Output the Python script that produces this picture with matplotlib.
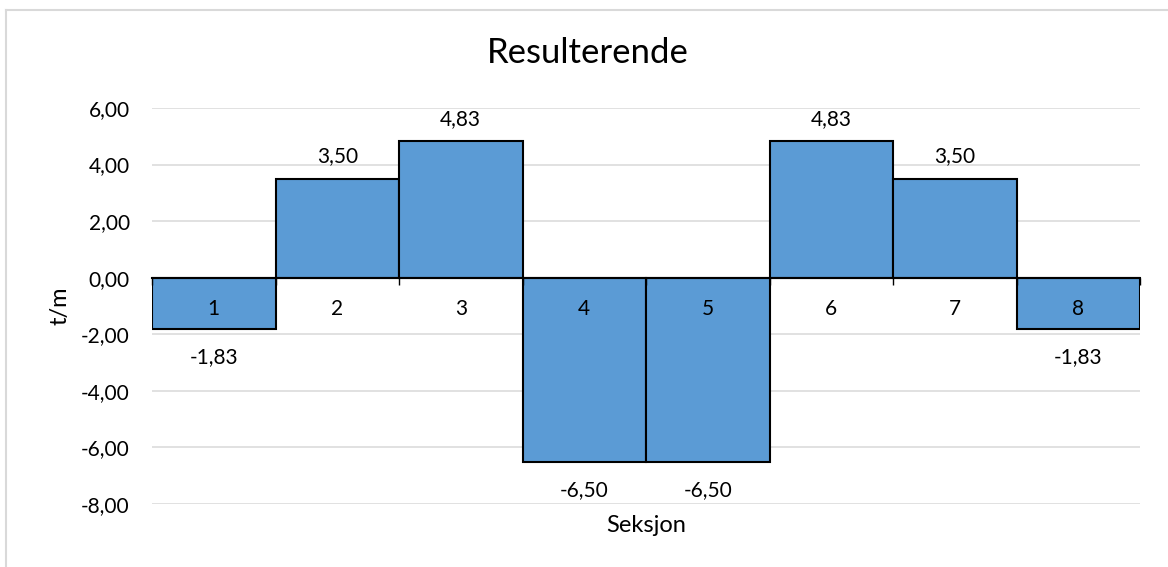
import numpy as np
import matplotlib
matplotlib.use('Agg')
import matplotlib.pyplot as plt
from matplotlib.ticker import FuncFormatter, FixedLocator
from matplotlib.lines import Line2D

plt.rcParams['font.family'] = ['Lato', 'DejaVu Sans']

# resulting load per section (t/m)
sections = ['1', '2', '3', '4', '5', '6', '7', '8']
loads = [-1.83, 3.50, 4.83, -6.50, -6.50, 4.83, 3.50, -1.83]


def comma(v, pos=None):
    return f'{v:.2f}'.replace('.', ',')


fig = plt.figure(figsize=(11.68, 5.67), dpi=100)
ax = fig.add_axes([152 / 1168, 1 - 504 / 567, (1140 - 152) / 1168, (504 - 108) / 567])

x = np.arange(len(sections))
bars = ax.bar(x, loads, width=1.0, color='#5B9BD5', edgecolor='black',
              linewidth=1.5, zorder=2)
# value labels: above positive bars, below negative ones
ax.bar_label(bars, labels=[comma(v) if v >= 0 else '' for v in loads], padding=9, fontsize=15)
ax.bar_label(bars, labels=[comma(v) if v < 0 else '' for v in loads], padding=13, fontsize=15)

ax.set_xlim(-0.5, len(sections) - 0.5)
ax.set_ylim(-8, 6)
ax.set_yticks(np.arange(-8, 7, 2))
ax.yaxis.set_major_formatter(FuncFormatter(comma))
ax.tick_params(axis='y', length=0, pad=16, labelsize=15)
ax.grid(axis='y', color='#D9D9D9', linewidth=1.1)
ax.set_axisbelow(True)

# category axis sits on the zero line, ticks between sections
for s in ['left', 'right', 'top']:
    ax.spines[s].set_visible(False)
ax.spines['bottom'].set_position(('data', 0))
ax.spines['bottom'].set_linewidth(1.5)
ax.spines['bottom'].set_zorder(3)
ax.xaxis.set_zorder(3)
ax.xaxis.set_major_locator(FixedLocator(np.arange(-0.5, len(sections), 1.0)))
ax.xaxis.set_minor_locator(FixedLocator(x))
ax.xaxis.set_major_formatter(FuncFormatter(lambda v, p: ''))
ax.xaxis.set_minor_formatter(FuncFormatter(lambda v, p: sections[int(round(v))]))
ax.tick_params(axis='x', which='major', direction='out', length=5, width=1.0, color='black')
ax.tick_params(axis='x', which='minor', length=0, pad=15.5, labelsize=15)

fig.text(588 / 1168, 1 - 53 / 567, 'Resulterende', ha='center', va='center', fontsize=25)
fig.text(646 / 1168, 1 - 525 / 567, 'Seksjon', ha='center', va='center', fontsize=17)
fig.text(60 / 1168, 1 - 306 / 567, 't/m', ha='center', va='center', fontsize=17, rotation=90)

# chart area border
fig.add_artist(Line2D([6 / 1168, 1.0], [1 - 9.5 / 567] * 2, color='#D9D9D9', linewidth=1.5))
fig.add_artist(Line2D([6 / 1168] * 2, [0.0, 1 - 9.5 / 567], color='#D9D9D9', linewidth=1.5))

fig.savefig('out.png', dpi=100)
